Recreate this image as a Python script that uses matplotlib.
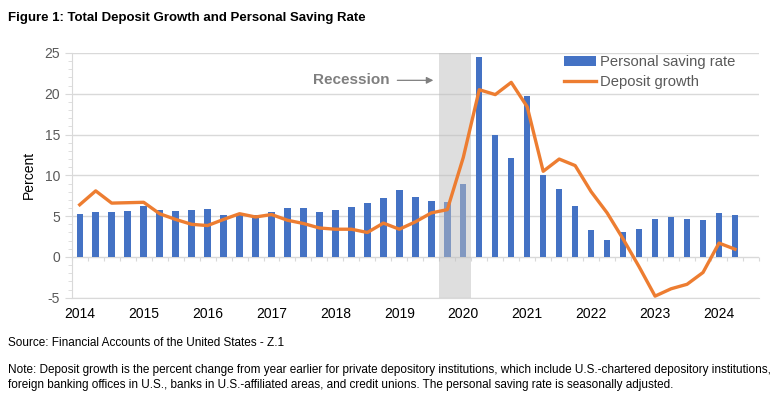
import numpy as np
import matplotlib.pyplot as plt
from matplotlib.ticker import MultipleLocator

plt.rcParams['font.family'] = ['Liberation Sans', 'DejaVu Sans']
plt.rcParams['axes.unicode_minus'] = False

# quarterly data 2014Q1 .. 2024Q2
years = [2014, 2015, 2016, 2017, 2018, 2019, 2020, 2021, 2022, 2023, 2024]
saving_rate = [5.3, 5.5, 5.5, 5.6, 6.2, 5.7, 5.6, 5.7, 5.9, 5.2, 5.2, 5.2, 5.5, 6.0,
               6.0, 5.5, 5.7, 6.1, 6.6, 7.2, 8.2, 7.3, 6.9, 6.7, 9.0, 24.5, 15.0, 12.1,
               19.7, 10.0, 8.3, 6.2, 3.3, 2.1, 3.1, 3.4, 4.7, 4.9, 4.6, 4.5, 5.4, 5.2]
deposit_growth = [6.4, 8.1, 6.6, 6.65, 6.7, 5.3, 4.6, 4.0, 3.85, 4.6, 5.3, 4.9, 5.2, 4.5,
                  4.1, 3.55, 3.4, 3.4, 3.0, 4.15, 3.4, 4.3, 5.4, 5.8, 12.2, 20.5, 19.9, 21.4,
                  18.4, 10.5, 12.0, 11.2, 8.0, 5.4, 2.2, -1.2, -4.8, -3.9, -3.35, -1.9, 1.7, 0.95]
recession = (22.5, 24.5)  # 2019Q4 - 2020Q1 slots

x = np.arange(len(saving_rate))
grey_txt = '#595959'
grid_c = '#d9d9d9'
narrow = ['Liberation Sans Narrow', 'Liberation Sans']

fig = plt.figure(figsize=(7.83, 3.97), dpi=100)
ax = fig.add_axes([0.0916, 0.25, 0.8777, 0.6165])

bars = ax.bar(x, saving_rate, width=0.4, color='#4472c4', zorder=2, label='Personal saving rate')
ax.axvspan(*recession, color='#bfbfbf', alpha=0.5, lw=0, zorder=3)
line, = ax.plot(x, deposit_growth, color='#ed7d31', lw=2.4, zorder=4, label='Deposit growth')

ax.set_xlim(-0.5, 42.5)
ax.set_ylim(-5, 25)
ax.yaxis.set_major_locator(MultipleLocator(5))
ax.yaxis.set_minor_locator(MultipleLocator(1))
ax.grid(axis='y', color=grid_c, lw=1, zorder=0)
ax.set_axisbelow(True)

for s in ['top', 'right']:
    ax.spines[s].set_visible(False)
ax.spines['left'].set_color(grid_c)
ax.spines['bottom'].set_color(grid_c)
ax.tick_params(axis='y', which='both', colors=grid_c, labelcolor=grey_txt, labelsize=10)
ax.tick_params(axis='y', which='major', length=5)
ax.tick_params(axis='y', which='minor', length=3)

ax.set_xticks(x[::4])
ax.set_xticklabels([str(y) for y in years])
ax.tick_params(axis='x', length=0, pad=7, labelsize=10, labelcolor='black')

# small category ticks along the zero line
sec = ax.secondary_xaxis(5 / 30)
sec.set_xticks(np.arange(-0.5, 43, 1))
sec.set_xticklabels([])
sec.tick_params(length=3, color=grid_c)
sec.spines['bottom'].set_visible(False)

ax.set_ylabel('Percent', fontsize=10, labelpad=6)

ax.annotate('', xy=(22.3, 21.65), xytext=(19.7, 21.65),
            arrowprops=dict(arrowstyle='-|>', color='#7f7f7f', lw=0.9, mutation_scale=10))
ax.text(17.0, 21.65, 'Recession', ha='center', va='center', fontsize=11,
        fontweight='bold', color='#7f7f7f')

ax.legend([bars, line], ['Personal saving rate', 'Deposit growth'], loc='upper right',
          bbox_to_anchor=(0.985, 1.045), frameon=False, fontsize=10.6, handlelength=2.2,
          handletextpad=0.25, labelspacing=0.4, labelcolor=grey_txt)

fig.text(0.01, 0.955, 'Figure 1: Total Deposit Growth and Personal Saving Rate',
         fontsize=9.5, fontweight='bold', va='center')
fig.text(0.01, 0.135, 'Source: Financial Accounts of the United States - Z.1',
         fontsize=8.5, va='center', family=narrow)
fig.text(0.01, 0.05, 'Note: Deposit growth is the percent change from year earlier for private '
         'depository institutions, which include U.S.-chartered depository institutions,\n'
         'foreign banking offices in U.S., banks in U.S.-affiliated areas, and credit unions. '
         'The personal saving rate is seasonally adjusted.',
         fontsize=8.5, va='center', linespacing=1.35, family=narrow)

fig.savefig('out.png', dpi=100)
